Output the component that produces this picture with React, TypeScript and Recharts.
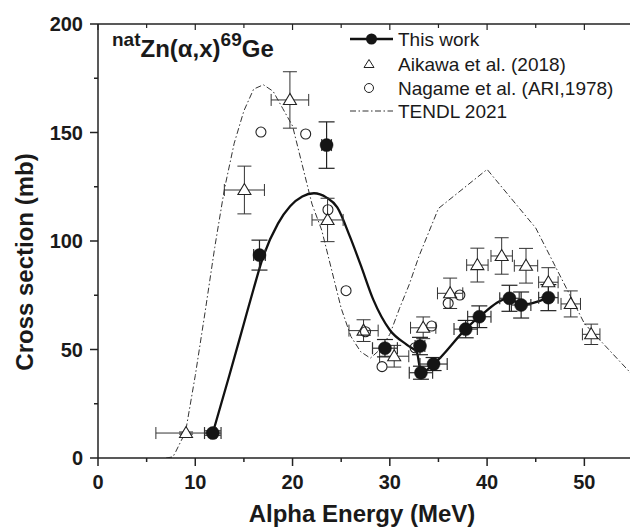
import React from 'react';
import { ComposedChart, Line, Scatter, XAxis, YAxis, ErrorBar } from 'recharts';

// ---- Data ----
const thisWorkE = [11.8, 16.6, 23.5, 29.5, 33.1, 33.2, 34.5, 37.8, 39.2, 42.3, 43.5, 46.3];
const thisWorkS = [11.5, 93.5, 144.2, 50.6, 51.6, 39.3, 43.3, 59.4, 65.1, 73.6, 70.5, 73.9];
const thisWorkEx = [0.85, 0.6, 0.5, 1.28, 0.5, 1.2, 1.4, 1.2, 1.2, 1.0, 1.0, 1.0];
const thisWorkEy = [1, 6.9, 10.7, 4, 4, 3, 3, 4, 5, 6, 6, 6];

const fitE = [11.8, 13.5, 15.0, 16.0, 17.0, 18.5, 19.75, 21.0, 22.2, 23.5, 24.6, 25.9, 27.0, 28.3, 30.0, 31.8, 32.8, 33.2, 34.5, 37.8, 39.2, 42.3, 43.5, 46.3];
const fitS = [11.5, 38, 62, 78, 93, 108, 116, 120.5, 122, 120, 115.5, 102, 89, 73, 59, 52, 48.5, 39.3, 43.3, 59.4, 65.1, 73.6, 70.5, 73.9];

const aikawaE = [9.05, 15.05, 19.73, 23.6, 27.3, 30.45, 33.43, 36.2, 39.0, 41.5, 44.0, 46.3, 48.6, 50.7];
const aikawaS = [11.5, 123.5, 165, 109.7, 58.7, 46.9, 60.0, 75.9, 88.9, 93.1, 88.6, 81, 71, 57];
const aikawaEx = [3.1, 2.06, 1.93, 1.6, 1.5, 1.5, 1.3, 1.3, 1.1, 1.1, 1.2, 1.0, 1.0, 0.9];
const aikawaEy = [0.5, 11, 13, 10, 5, 5, 5, 7, 7.8, 8.4, 8, 6.7, 6, 4.7];

const nagameE = [16.75, 21.35, 23.64, 25.5, 27.5, 29.2, 32.6, 34.3, 36.0, 37.2];
const nagameS = [150.2, 149.3, 114.4, 77.1, 58.2, 42.1, 50.8, 60.8, 71.3, 75.1];

const tendlE = [7.0, 7.7, 8, 9, 10, 11, 12, 13, 14, 15, 16, 17, 18, 19, 20, 21, 22, 23, 24, 25, 26, 27, 28, 29, 30, 31, 32, 33, 34, 35, 40, 45, 50, 55];
const tendlS = [0, 0.5, 3, 12, 38, 67, 97, 124, 145, 160, 170, 172, 169, 161, 153, 135, 117, 105, 87, 69, 56, 49, 46, 50, 57, 69, 80, 93, 104, 115, 133, 106, 62, 38];

const xTicks = [0, 5, 10, 15, 20, 25, 30, 35, 40, 45, 50, 55];
const yTicks = [0, 25, 50, 75, 100, 125, 150, 175, 200];

const legendLabels = ['This work', 'Aikawa et al. (2018)', 'Nagame et al. (ARI,1978)', 'TENDL 2021'];

// ---- Derived tables ----
const thisWork = thisWorkE.map((x, i) => ({ x, y: thisWorkS[i], ex: thisWorkEx[i], ey: thisWorkEy[i] }));
const fit = fitE.map((x, i) => ({ x, y: fitS[i] }));
const aikawa = aikawaE.map((x, i) => ({ x, y: aikawaS[i], ex: aikawaEx[i], ey: aikawaEy[i] }));
const nagame = nagameE.map((x, i) => ({ x, y: nagameS[i] }));
const tendl = tendlE.map((x, i) => ({ x, y: tendlS[i] }));

const FONT = '"Liberation Sans", Arial, Helvetica, sans-serif';
const AX = '#222';
const TXT = '#1a1a1a';

const BottomTick = (props: any) => {
  const { x, y, payload } = props;
  const v = payload.value;
  const major = v % 10 === 0;
  return (
    <g>
      <line x1={x} x2={x} y1={y} y2={y + (major ? 8 : 4)} stroke={AX} strokeWidth={1.5} />
      {major && (
        <text x={x} y={y + 31} textAnchor="middle" fontSize={20} fontWeight="bold" fill={TXT} fontFamily={FONT}>
          {v}
        </text>
      )}
    </g>
  );
};

const TopTick = (props: any) => {
  const { x, y, payload } = props;
  const major = payload.value % 10 === 0;
  return <line x1={x} x2={x} y1={y} y2={y + (major ? 6 : 4)} stroke={AX} strokeWidth={1.2} />;
};

const LeftTick = (props: any) => {
  const { x, y, payload } = props;
  const v = payload.value;
  const major = v % 50 === 0;
  return (
    <g>
      <line x1={x - (major ? 8 : 4)} x2={x} y1={y} y2={y} stroke={AX} strokeWidth={1.5} />
      {major && (
        <text x={x - 15} y={y + 7} textAnchor="end" fontSize={20} fontWeight="bold" fill={TXT} fontFamily={FONT}>
          {v}
        </text>
      )}
    </g>
  );
};

const FilledCircle = (props: any) => {
  const { cx, cy } = props;
  if (cx == null || cy == null) return <g />;
  return <circle cx={cx} cy={cy} r={6.5} fill="#151515" stroke="#151515" strokeWidth={0.5} />;
};

const OpenTriangle = (props: any) => {
  const { cx, cy } = props;
  if (cx == null || cy == null) return <g />;
  const pts = `${cx},${cy - 6.5} ${cx - 6.5},${cy + 4.5} ${cx + 6.5},${cy + 4.5}`;
  return <polygon points={pts} fill="#fff" stroke="#222" strokeWidth={1.1} />;
};

const OpenCircle = (props: any) => {
  const { cx, cy } = props;
  if (cx == null || cy == null) return <g />;
  return <circle cx={cx} cy={cy} r={5} fill="none" stroke="#222" strokeWidth={1.1} />;
};

const TENDL_DASH = '6 2.5 1.5 2.5';

export default function App() {
  return (
    <div style={{ position: 'absolute', left: 0, top: 0, width: 630, height: 528, overflow: 'hidden', background: '#fff' }}>
      <ComposedChart
        width={633}
        height={528}
        margin={{ top: 14, right: 0, bottom: 40, left: 38 }}
      >
        <XAxis
          xAxisId="bottom"
          dataKey="x"
          type="number"
          domain={[0, 55]}
          ticks={xTicks}
          interval={0}
          allowDataOverflow
          height={30}
          tickSize={0}
          tickMargin={0}
          tickLine={false}
          tick={<BottomTick />}
          axisLine={{ stroke: AX, strokeWidth: 1.5 }}
        />
        <XAxis
          xAxisId="top"
          orientation="top"
          dataKey="x"
          type="number"
          domain={[0, 55]}
          ticks={xTicks}
          interval={0}
          allowDataOverflow
          height={10}
          tickSize={0}
          tickMargin={0}
          tickLine={false}
          tick={<TopTick />}
          axisLine={{ stroke: AX, strokeWidth: 1.5 }}
        />
        <YAxis
          dataKey="y"
          type="number"
          domain={[0, 200]}
          ticks={yTicks}
          interval={0}
          allowDataOverflow
          width={60}
          tickSize={0}
          tickMargin={0}
          tickLine={false}
          tick={<LeftTick />}
          axisLine={{ stroke: AX, strokeWidth: 1.5 }}
        />
        <Line
          xAxisId="bottom"
          data={tendl}
          dataKey="y"
          type="linear"
          stroke="#333"
          strokeWidth={1}
          strokeDasharray={TENDL_DASH}
          dot={false}
          activeDot={false}
          isAnimationActive={false}
        />
        <Line
          xAxisId="bottom"
          data={fit}
          dataKey="y"
          type="monotone"
          stroke="#111"
          strokeWidth={2.3}
          dot={false}
          activeDot={false}
          isAnimationActive={false}
        />
        <Scatter xAxisId="bottom" data={aikawa} dataKey="y" shape={<OpenTriangle />} isAnimationActive={false}>
          <ErrorBar dataKey="ex" direction="x" width={6} stroke="#333" strokeWidth={1} />
          <ErrorBar dataKey="ey" direction="y" width={7} stroke="#333" strokeWidth={1} />
        </Scatter>
        <Scatter xAxisId="bottom" data={nagame} dataKey="y" shape={<OpenCircle />} isAnimationActive={false} />
        <Scatter xAxisId="bottom" data={thisWork} dataKey="y" shape={<FilledCircle />} isAnimationActive={false}>
          <ErrorBar dataKey="ex" direction="x" width={6} stroke="#333" strokeWidth={1.2} />
          <ErrorBar dataKey="ey" direction="y" width={8} stroke="#222" strokeWidth={1.2} />
        </Scatter>
      </ComposedChart>

      <svg width={630} height={528} style={{ position: 'absolute', left: 0, top: 0, pointerEvents: 'none' }}>
        {/* reaction label */}
        <text x={112} y={46} fontFamily={FONT} fontWeight="bold" fill={TXT} fontSize={19}>
          <tspan>nat</tspan>
          <tspan dy={11} fontSize={24}>Zn(α,x)</tspan>
          <tspan dy={-11} fontSize={19}>69</tspan>
          <tspan dy={11} fontSize={24}>Ge</tspan>
        </text>

        {/* legend */}
        <line x1={350} x2={393} y1={39} y2={39} stroke="#111" strokeWidth={2.3} />
        <circle cx={371.5} cy={39} r={5.5} fill="#151515" />
        <text x={398} y={46} fontSize={19} fill={TXT} fontFamily={FONT}>{legendLabels[0]}</text>

        <polygon points="369,59.5 364,67.5 374,67.5" fill="#fff" stroke="#222" strokeWidth={1} />
        <text x={398} y={71} fontSize={19} fill={TXT} fontFamily={FONT}>{legendLabels[1]}</text>

        <circle cx={369} cy={88} r={4.5} fill="none" stroke="#222" strokeWidth={1} />
        <text x={398} y={95} fontSize={19} fill={TXT} fontFamily={FONT}>{legendLabels[2]}</text>

        <line x1={350} x2={393} y1={111} y2={111} stroke="#333" strokeWidth={1} strokeDasharray={TENDL_DASH} />
        <text x={398} y={118} fontSize={19} fill={TXT} fontFamily={FONT}>{legendLabels[3]}</text>

        {/* axis titles */}
        <text x={362} y={522} textAnchor="middle" fontSize={24} fontWeight="bold" fill={TXT} fontFamily={FONT}>
          Alpha Energy (MeV)
        </text>
        <text
          x={33}
          y={262}
          transform="rotate(-90 33 262)"
          textAnchor="middle"
          fontSize={24}
          fontWeight="bold"
          fill={TXT}
          fontFamily={FONT}
        >
          Cross section (mb)
        </text>
      </svg>
    </div>
  );
}
